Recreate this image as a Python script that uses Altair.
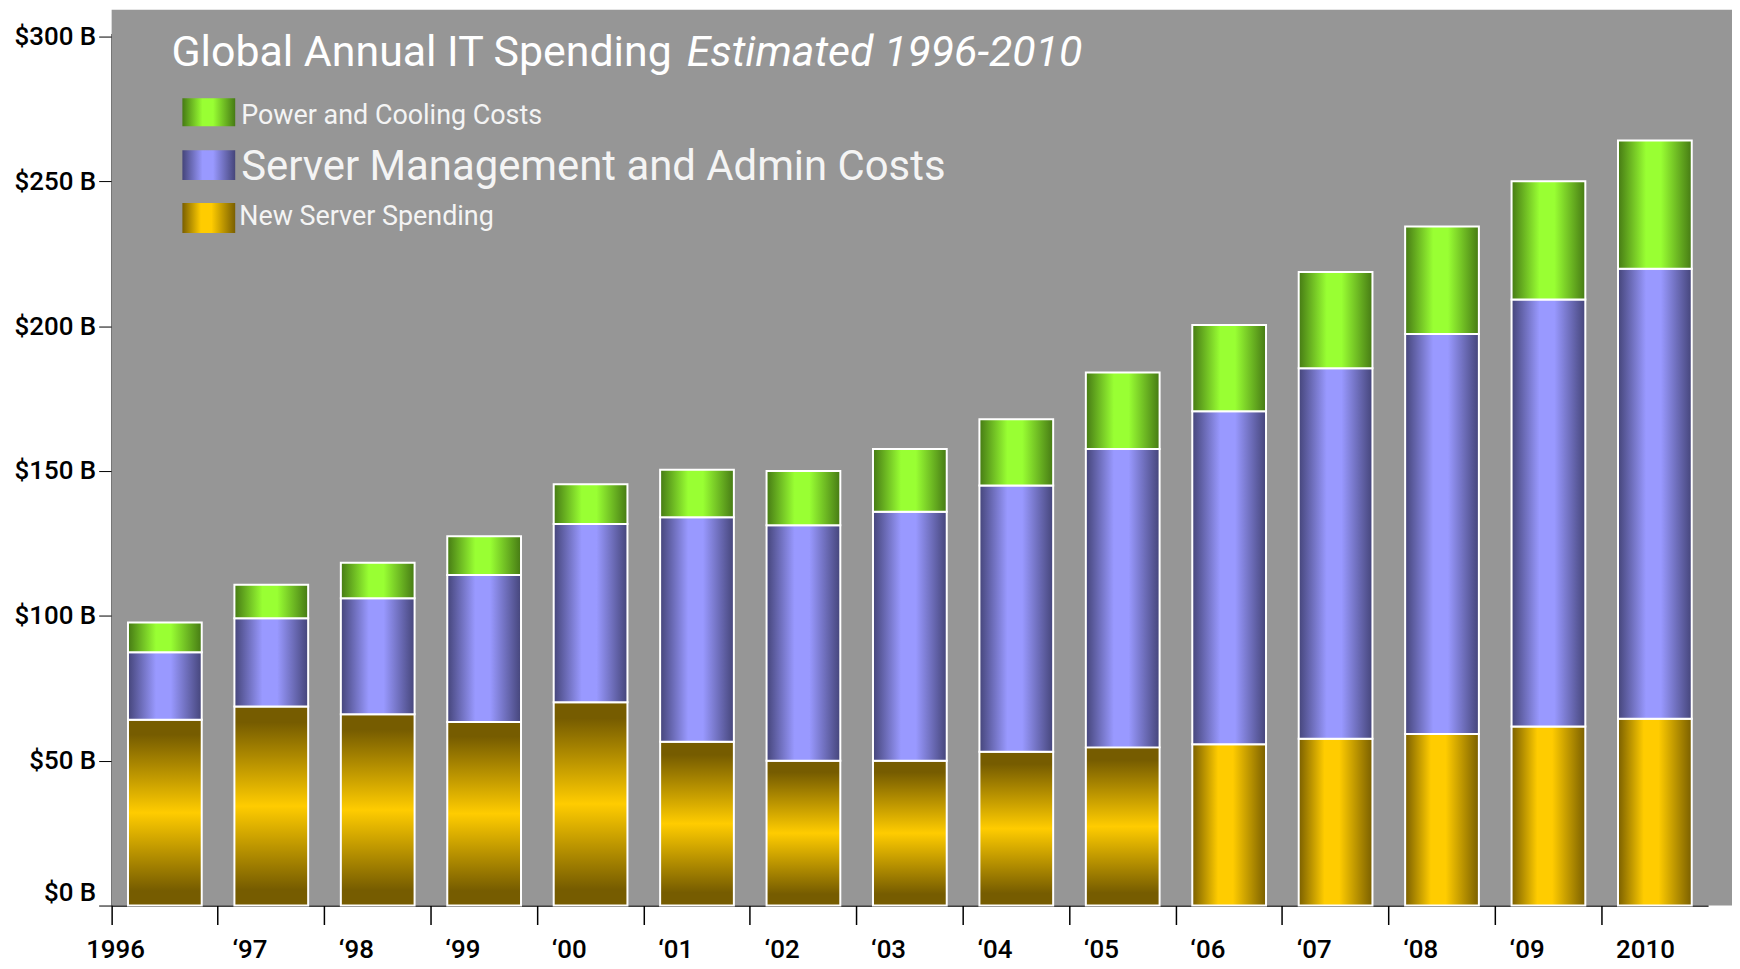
import altair as alt
import pandas as pd

years = ["1996", "‘97", "‘98", "‘99", "‘00", "‘01", "‘02", "‘03", "‘04", "‘05",
         "‘06", "‘07", "‘08", "‘09", "2010"]
new_server = [64.1, 68.7, 66.0, 63.4, 70.2, 56.5, 50.0, 50.0, 53.1, 54.6,
              55.7, 57.6, 59.2, 61.8, 64.5]
mgmt_admin = [23.3, 30.5, 40.1, 50.7, 61.5, 77.5, 81.3, 85.9, 91.9, 103.0,
              114.9, 127.9, 138.1, 147.4, 155.3]
power_cooling = [10.3, 11.5, 12.2, 13.4, 13.7, 16.4, 18.7, 21.7, 22.9, 26.4,
                 29.8, 33.2, 37.1, 40.8, 44.3]
series_names = ["New Server Spending", "Server Management and Admin Costs",
                "Power and Cooling Costs"]
y_ticks = [0, 50, 100, 150, 200, 250, 300]

rows = []
for i, yr in enumerate(years):
    for k, (name, vals) in enumerate(zip(series_names,
                                         [new_server, mgmt_admin, power_cooling])):
        rows.append({"year": yr, "idx": i, "series": name, "order": k, "value": vals[i]})
df = pd.DataFrame(rows)

FONT = "Roboto, sans-serif"
BG = "#969696"


def hgrad(dark, light, lo=0.38, hi=0.58):
    return {"gradient": "linear", "x1": 0, "x2": 1, "y1": 0, "y2": 0,
            "stops": [{"offset": 0, "color": dark}, {"offset": lo, "color": light},
                      {"offset": hi, "color": light}, {"offset": 1, "color": dark}]}


def vgrad(dark, light):
    return {"gradient": "linear", "x1": 0, "x2": 0, "y1": 0, "y2": 1,
            "stops": [{"offset": 0, "color": dark}, {"offset": 0.08, "color": dark},
                      {"offset": 0.5, "color": light}, {"offset": 0.92, "color": dark},
                      {"offset": 1, "color": dark}]}


green_g = hgrad("#467a14", "#99ff33")
purple_g = hgrad("#45457a", "#9999ff")
gold_h = hgrad("#7a5f00", "#ffcc00", 0.35, 0.55)
gold_v = vgrad("#765c00", "#ffcc00")

x_enc = alt.X("year:N", sort=years, title=None,
              scale=alt.Scale(range=[0, 1602], paddingInner=0, paddingOuter=0),
              axis=alt.Axis(bandPosition=0, tickSize=19, tickColor="black", tickWidth=1.5,
                            domainColor="black", domainWidth=1.5, labelAngle=0,
                            labelAlign="left",
                            labelOffset={"condition": {"test": "datum.value === '1996'", "value": -79},
                                         "value": -39},
                            labelPadding=12, labelFont=FONT, labelFontSize=26,
                            labelColor="black", labelFontWeight=500))
y_scale = alt.Scale(domain=[0, 301], range=[899, 24], nice=False, zero=True)
y_axis = alt.Axis(values=y_ticks, labelExpr="'$' + datum.value + ' B'", grid=False,
                  tickSize=13, tickColor="black", domainColor="black", domainWidth=1.5,
                  labelPadding=3, labelFont=FONT, labelFontSize=26, labelColor="black",
                  labelFontWeight=500,
                  labelBaseline={"condition": {"test": "datum.value === 0", "value": "bottom"},
                                 "value": "middle"})

base = alt.Chart(df).transform_stack(
    stack="value", groupby=["year"], as_=["y0", "y1"],
    sort=[alt.SortField("order", order="ascending")])


def layer(filter_expr, grad):
    return base.transform_filter(filter_expr).mark_bar(
        fill=grad, stroke="white", strokeWidth=2, size=74
    ).encode(
        x=x_enc,
        y=alt.Y("y0:Q", scale=y_scale, title=None, axis=y_axis),
        y2="y1:Q",
    )


sw_df = pd.DataFrame({"s": ["a"]})
backdrop = alt.Chart(sw_df).mark_rect(fill=BG).encode(
    x=alt.value(0), x2=alt.value(1626), y=alt.value(0), y2=alt.value(899))

bars = alt.layer(
    layer("datum.order === 0 && datum.idx < 10", gold_v),
    layer("datum.order === 0 && datum.idx >= 10", gold_h),
    layer("datum.order === 1", purple_g),
    layer("datum.order === 2", green_g),
)

title_a = alt.Chart(pd.DataFrame({"t": ["Global Annual IT Spending"]})).mark_text(
    x=60, y=57, align="left", baseline="alphabetic", font=FONT, fontSize=43, color="white"
).encode(text="t:N")
title_b = alt.Chart(pd.DataFrame({"t": ["Estimated 1996-2010"]})).mark_text(
    x=577, y=57, align="left", baseline="alphabetic", font=FONT, fontSize=43,
    fontStyle="italic", color="white"
).encode(text="t:N")

sw_green = alt.Chart(sw_df).mark_rect(fill=green_g).encode(
    x=alt.value(71), x2=alt.value(124), y=alt.value(89), y2=alt.value(117))
sw_purple = alt.Chart(sw_df).mark_rect(fill=purple_g).encode(
    x=alt.value(71), x2=alt.value(124), y=alt.value(141), y2=alt.value(171))
sw_gold = alt.Chart(sw_df).mark_rect(fill=gold_h).encode(
    x=alt.value(71), x2=alt.value(124), y=alt.value(194), y2=alt.value(224))

lg1 = alt.Chart(pd.DataFrame({"t": [series_names[2]]})).mark_text(
    x=130, y=115, align="left", baseline="alphabetic", font=FONT, fontSize=27, color="#f4f4f4"
).encode(text="t:N")
lg2 = alt.Chart(pd.DataFrame({"t": [series_names[1]]})).mark_text(
    x=130, y=171, align="left", baseline="alphabetic", font=FONT, fontSize=42, color="#f4f4f4"
).encode(text="t:N")
lg3 = alt.Chart(pd.DataFrame({"t": [series_names[0]]})).mark_text(
    x=128, y=216, align="left", baseline="alphabetic", font=FONT, fontSize=27, color="#f4f4f4"
).encode(text="t:N")

chart = alt.layer(backdrop, bars, title_a, title_b, sw_green, sw_purple, sw_gold,
                  lg1, lg2, lg3).properties(
    width=1626, height=899,
    background="white",
    autosize=alt.AutoSizeParams(type="none"),
    padding={"left": 104, "top": 0, "right": 0, "bottom": 60},
).configure_view(stroke=None)

chart.save("out.html", embed_options={"renderer": "svg", "actions": False})
